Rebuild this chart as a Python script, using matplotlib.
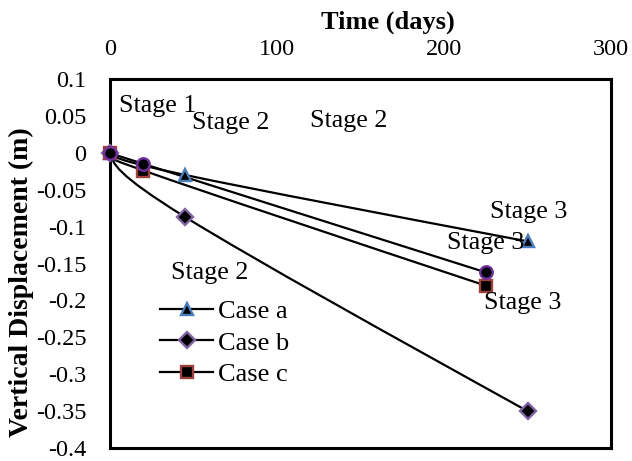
import matplotlib
matplotlib.use('Agg')
import matplotlib.pyplot as plt
from matplotlib.path import Path
from matplotlib.patches import PathPatch
from matplotlib.lines import Line2D
import numpy as np

plt.rcParams['font.family'] = 'serif'
plt.rcParams['font.serif'] = ['Liberation Serif', 'DejaVu Serif']

# time (days) and vertical displacement (m)
days_a = [0, 45, 250]
disp_a = [0, -0.030, -0.120]
days_b = [0, 45, 250]
disp_b = [0, -0.087, -0.350]
days_c = [0, 20, 225]
disp_c = [0, -0.024, -0.180]
# extra series with no legend entry (circles)
days_d = [0, 20, 225]
disp_d = [0, -0.015, -0.162]

# stage labels: (text, x, y of baseline)
stage_text = ['Stage 1', 'Stage 2', 'Stage 2', 'Stage 2', 'Stage 3', 'Stage 3', 'Stage 3']
stage_x = [5.6, 49.0, 119.8, 36.5, 227.5, 201.8, 224.0]
stage_y = [0.0557, 0.0322, 0.035, -0.171, -0.088, -0.130, -0.212]

x_ticks = [0, 100, 200, 300]
y_ticks = np.round(np.arange(-0.4, 0.1001, 0.05), 2)


def smooth_path(xs, ys):
    # excel-style smoothed line, bezier through the points
    p = np.column_stack([xs, ys]).astype(float)
    n = len(p)
    verts = [p[0]]
    codes = [Path.MOVETO]
    for i in range(n - 1):
        c1 = p[i] + (p[i + 1] - p[i - 1]) / 6 if i > 0 else None
        c2 = p[i + 1] - (p[i + 2] - p[i]) / 6 if i + 2 < n else None
        # free ends: no curvature at the first / last point
        if c1 is None and c2 is None:
            c1 = p[i] + (p[i + 1] - p[i]) / 3
            c2 = p[i] + 2 * (p[i + 1] - p[i]) / 3
        elif c1 is None:
            c1 = (p[i] + c2) / 2
        elif c2 is None:
            c2 = (p[i + 1] + c1) / 2
        verts += [c1, c2, p[i + 1]]
        codes += [Path.CURVE4] * 3
    return Path(verts, codes)


fig = plt.figure(figsize=(6.32, 4.61), dpi=100)
ax = fig.add_axes([0.1741, 0.0282, 0.7927, 0.8004])

styles = [
    (days_a, disp_a, '^', '#4a7ebb', 'Case a', 9),
    (days_b, disp_b, 'D', '#8064a2', 'Case b', 8),
    (days_c, disp_c, 's', '#a0403d', 'Case c', 8),
    (days_d, disp_d, 'o', '#7030a0', None, 9),
]
handles = []
for xs, ys, m, ec, lab, ms in styles:
    ax.add_patch(PathPatch(smooth_path(xs, ys), fill=False, edgecolor='black',
                           lw=1.6, zorder=2))
    ax.plot(xs, ys, ls='none', marker=m, markersize=ms, markerfacecolor='black',
            markeredgecolor=ec, markeredgewidth=1.7, zorder=3, clip_on=False)
    if lab:
        handles.append(Line2D([], [], color='black', lw=1.6, marker=m, markersize=ms,
                              markerfacecolor='black', markeredgecolor=ec,
                              markeredgewidth=1.7, label=lab))

for t, x, y in zip(stage_text, stage_x, stage_y):
    ax.text(x, y, t, fontsize=18.7, ha='left', va='baseline', zorder=4)

ax.set_xlim(0, 300)
ax.set_ylim(-0.4, 0.1)
ax.set_xticks(x_ticks)
ax.set_xticklabels([str(v) for v in x_ticks])
ax.set_yticks(y_ticks)
ax.set_yticklabels(['0' if v == 0 else f'{v:g}' for v in y_ticks])
ax.xaxis.tick_top()
ax.xaxis.set_label_position('top')
ax.tick_params(axis='both', length=0, labelsize=17.5)
ax.tick_params(axis='y', pad=17)
ax.tick_params(axis='x', pad=14)

for s in ax.spines.values():
    s.set_linewidth(2.2)
    s.set_color('black')

ax.set_xlabel('Time (days)', fontsize=19, fontweight='bold')
ax.xaxis.label.set_va('center')
ax.xaxis.set_label_coords(0.555, 1.155)
ax.set_ylabel('Vertical Displacement (m)', fontsize=20, fontweight='bold')
ax.yaxis.label.set_va('center')
ax.yaxis.set_label_coords(-0.176, 0.45)

ax.legend(handles=handles, loc='center left', bbox_to_anchor=(0.1, 0.2846),
          frameon=False, fontsize=19, handlelength=2.0, handletextpad=0.2,
          labelspacing=0.3, borderpad=0, borderaxespad=0)

fig.savefig('out.png', dpi=100)
